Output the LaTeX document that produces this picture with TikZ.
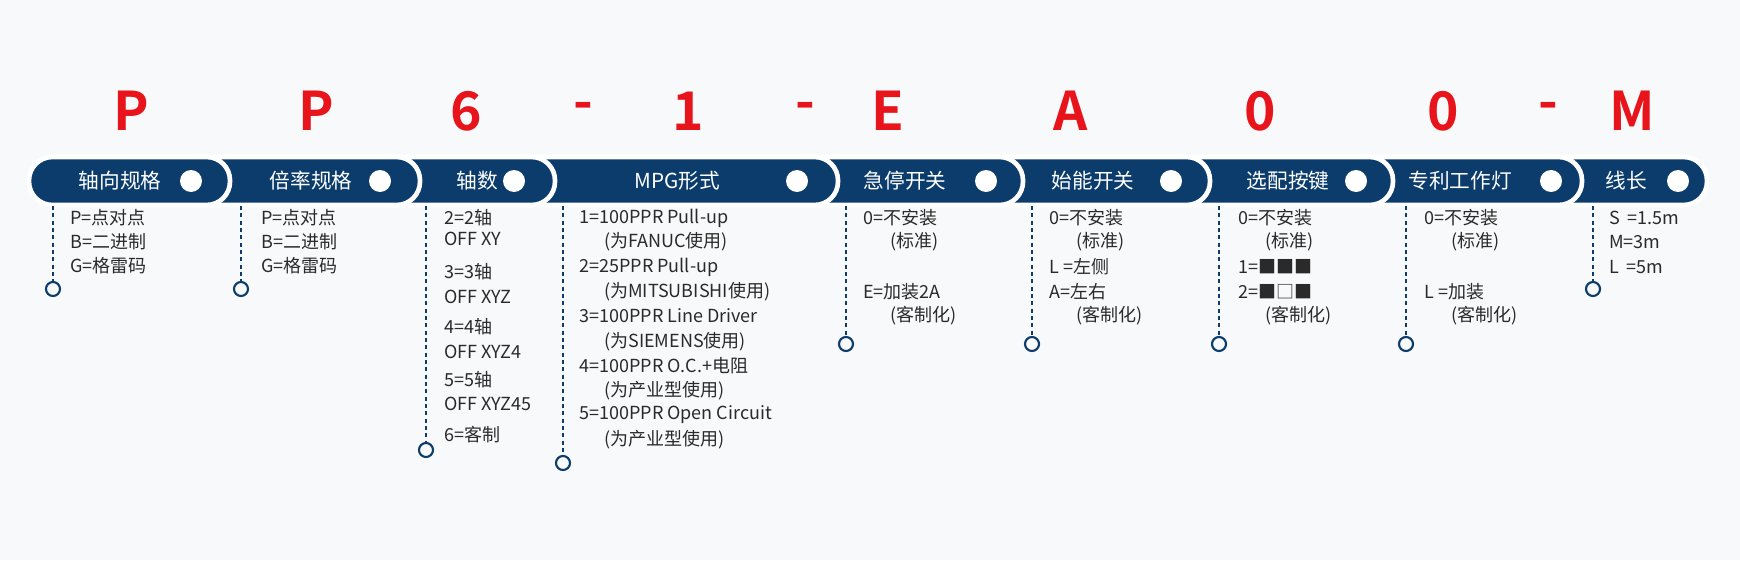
\documentclass[tikz,border=0pt]{standalone}
\usepackage{fontspec}
\setmainfont{Noto Sans CJK SC}
\newfontfamily\boldf{Noto Sans CJK SC Bold}
\definecolor{navy}{HTML}{0C3C6C}
\definecolor{red1}{HTML}{E8141B}
\definecolor{bg}{HTML}{F8F9FA}
\definecolor{txt}{HTML}{2A2A2A}
\begin{document}
\begin{tikzpicture}[x=0.75pt,y=-0.75pt,
  pill/.style={fill=navy,draw=white,line width=3.5pt,rounded corners=17.5pt},
  hdr/.style={text=white,font=\fontsize{15.5}{18}\selectfont,inner sep=0},
  dotw/.style={circle,fill=white,minimum size=16.5pt,inner sep=0},
  let/.style={text=red1,font=\boldf\fontsize{40}{44}\selectfont,inner sep=0},
  bt/.style={text=txt,font=\fontsize{13.5}{16}\selectfont,anchor=west,inner sep=0},
  vline/.style={navy,dashed,line width=1.5pt,dash pattern=on 3pt off 2.5pt},
  endc/.style={circle,draw=navy,line width=1.6pt,fill=bg,minimum size=10.5pt,inner sep=0}]
\fill[bg] (0,0) rectangle (1740,560);
\useasboundingbox (0,0) rectangle (1740,560);
% pills right to left
\draw[pill] (1520,157) rectangle (1707,205);
\draw[pill] (1340,157) rectangle (1582,205);
\draw[pill] (1150,157) rectangle (1393,205);
\draw[pill] (960,157) rectangle (1210,205);
\draw[pill] (780,157) rectangle (1023,205);
\draw[pill] (500,157) rectangle (838,205);
\draw[pill] (360,157) rectangle (555,205);
\draw[pill] (170,157) rectangle (420,205);
\draw[pill] (29,157) rectangle (230,205);
% letters
\foreach \x/\t [count=\i] in {131/P,316/P,466/6,583/-,688/1,805/-,888/E,1071/A,1260/0,1443/0,1548/-,1632/M}
  \node[let] (L\i) at (\x,111) {\t};
% headers
\foreach \x/\d/\t [count=\i] in {120/191/轴向规格,311/380/倍率规格,477/514/轴数,677/797/MPG形式,905/986/急停开关,1093/1171/始能开关,1288/1356/选配按键,1460/1551/专利工作灯,1626/1678/线长}{
  \node[hdr] (H\i) at (\x,181) {\t};
  \node[dotw] (D\i) at (\d,181) {};
}
% dashed lines and end circles
\foreach \x/\y [count=\i] in {53/289,241/289,426/450,563/463,846/344,1032/344,1219/344,1406/344,1593/289}{
  \coordinate (T\i) at (\x,206);
  \node[endc] (C\i) at (\x,\y) {};
  \draw[vline] (T\i) -- (C\i.north);
}
% body text
\newcommand\bl[3]{\node[bt] at (#1,#2) {#3};}
\bl{70}{218}{P=点对点}\bl{70}{242}{B=二进制}\bl{70}{266}{G=格雷码}
\bl{261}{218}{P=点对点}\bl{261}{242}{B=二进制}\bl{261}{266}{G=格雷码}
\bl{444}{218}{2=2轴}\bl{444}{239}{OFF XY}
\bl{444}{272}{3=3轴}\bl{444}{297}{OFF XYZ}
\bl{444}{327}{4=4轴}\bl{444}{352}{OFF XYZ4}
\bl{444}{380}{5=5轴}\bl{444}{404}{OFF XYZ45}
\bl{444}{435}{6=客制}
\bl{579}{218}{1=100PPR Pull-up}\bl{604}{242}{(为FANUC使用)}
\bl{579}{267}{2=25PPR Pull-up}\bl{604}{292}{(为MITSUBISHI使用)}
\bl{579}{316}{3=100PPR Line Driver}\bl{604}{342}{(为SIEMENS使用)}
\bl{579}{366}{4=100PPR O.C.+电阻}\bl{604}{391}{(为产业型使用)}
\bl{579}{415}{5=100PPR Open Circuit}\bl{604}{440}{(为产业型使用)}
\bl{863}{218}{0=不安装}\bl{890}{242}{(标准)}
\bl{863}{292}{E=加装2A}\bl{890}{316}{(客制化)}
\bl{1049}{218}{0=不安装}\bl{1076}{242}{(标准)}
\bl{1049}{267}{L =左侧}\bl{1049}{292}{A=左右}\bl{1076}{316}{(客制化)}
\bl{1238}{218}{0=不安装}\bl{1265}{242}{(标准)}
\bl{1238}{267}{1=■■■}\bl{1238}{292}{2=■□■}\bl{1265}{316}{(客制化)}
\bl{1424}{218}{0=不安装}\bl{1451}{242}{(标准)}
\bl{1424}{292}{L =加装}\bl{1451}{316}{(客制化)}
\bl{1609}{218}{S\, =1.5m}\bl{1609}{242}{M=3m}\bl{1609}{267}{L\, =5m}
\end{tikzpicture}
\end{document}
